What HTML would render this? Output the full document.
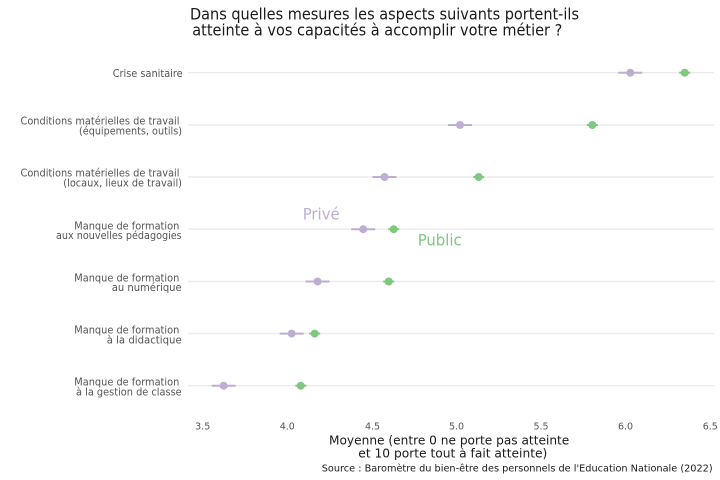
<!DOCTYPE html>
<html>
<head>
<meta charset="utf-8">
<style>
html,body{margin:0;padding:0;background:#fff;}
svg{display:block;}
text{font-family:"DejaVu Sans","Liberation Sans",sans-serif;}
</style>
</head>
<body>
<svg width="720" height="480" viewBox="0 0 720 480" xmlns="http://www.w3.org/2000/svg">
<rect width="720" height="480" fill="#ffffff"/>

<!-- Title -->
<text x="190" y="19.5" font-size="16" fill="#1a1a1a" textLength="389" lengthAdjust="spacingAndGlyphs">Dans quelles mesures les aspects suivants portent-ils</text>
<text x="192.3" y="35.5" font-size="16" fill="#1a1a1a" textLength="370" lengthAdjust="spacingAndGlyphs">atteinte à vos capacités à accomplir votre métier ?</text>

<!-- gridlines -->
<g stroke="#ebebeb" stroke-width="1.4">
<line x1="188" x2="714" y1="72.7" y2="72.7"/>
<line x1="188" x2="714" y1="125" y2="125"/>
<line x1="188" x2="714" y1="177" y2="177"/>
<line x1="188" x2="714" y1="229.2" y2="229.2"/>
<line x1="188" x2="714" y1="281.5" y2="281.5"/>
<line x1="188" x2="714" y1="333.6" y2="333.6"/>
<line x1="188" x2="714" y1="385.7" y2="385.7"/>
</g>

<!-- Y labels -->
<g font-size="11" fill="#555555">
<text x="112.7" y="77.2" textLength="70" lengthAdjust="spacingAndGlyphs">Crise sanitaire</text>

<text x="20.5" y="124.6" textLength="159" lengthAdjust="spacingAndGlyphs">Conditions matérielles de travail</text>
<text x="79" y="134.4" textLength="103" lengthAdjust="spacingAndGlyphs">(équipements, outils)</text>

<text x="20.5" y="176.6" textLength="159" lengthAdjust="spacingAndGlyphs">Conditions matérielles de travail</text>
<text x="63.3" y="186.4" textLength="118.7" lengthAdjust="spacingAndGlyphs">(locaux, lieux de travail)</text>

<text x="74.3" y="229.4" textLength="105" lengthAdjust="spacingAndGlyphs">Manque de formation</text>
<text x="56" y="239.2" textLength="125.7" lengthAdjust="spacingAndGlyphs">aux nouvelles pédagogies</text>

<text x="74.3" y="281.4" textLength="105" lengthAdjust="spacingAndGlyphs">Manque de formation</text>
<text x="111.7" y="291.2" textLength="70" lengthAdjust="spacingAndGlyphs">au numérique</text>

<text x="74.3" y="333.6" textLength="105" lengthAdjust="spacingAndGlyphs">Manque de formation</text>
<text x="106.7" y="343.4" textLength="75" lengthAdjust="spacingAndGlyphs">à la didactique</text>

<text x="74.3" y="385.7" textLength="105" lengthAdjust="spacingAndGlyphs">Manque de formation</text>
<text x="76" y="395.5" textLength="105.7" lengthAdjust="spacingAndGlyphs">à la gestion de classe</text>
</g>

<!-- Error bars -->
<g stroke="#BEAED4" stroke-width="2">
<line x1="618.3" x2="642.3" y1="72.7" y2="72.7"/>
<line x1="448" x2="472" y1="125" y2="125"/>
<line x1="372.5" x2="396.5" y1="177" y2="177"/>
<line x1="351.2" x2="375.2" y1="229.2" y2="229.2"/>
<line x1="305.6" x2="329.6" y1="281.5" y2="281.5"/>
<line x1="279.7" x2="303.7" y1="333.6" y2="333.6"/>
<line x1="211.7" x2="235.7" y1="385.7" y2="385.7"/>
</g>
<g stroke="#7FC97F" stroke-width="2">
<line x1="679.2" x2="690.2" y1="72.7" y2="72.7"/>
<line x1="586.8" x2="597.8" y1="125" y2="125"/>
<line x1="473.2" x2="484.2" y1="177" y2="177"/>
<line x1="388.2" x2="399.2" y1="229.2" y2="229.2"/>
<line x1="383.2" x2="394.2" y1="281.5" y2="281.5"/>
<line x1="309.2" x2="320.2" y1="333.6" y2="333.6"/>
<line x1="295.3" x2="306.3" y1="385.7" y2="385.7"/>
</g>

<!-- Points -->
<g fill="#BEAED4">
<circle cx="630.3" cy="72.7" r="4"/>
<circle cx="460" cy="125" r="4"/>
<circle cx="384.5" cy="177" r="4"/>
<circle cx="363.2" cy="229.2" r="4"/>
<circle cx="317.6" cy="281.5" r="4"/>
<circle cx="291.7" cy="333.6" r="4"/>
<circle cx="223.7" cy="385.7" r="4"/>
</g>
<g fill="#7FC97F">
<circle cx="684.7" cy="72.7" r="4"/>
<circle cx="592.3" cy="125" r="4"/>
<circle cx="478.7" cy="177" r="4"/>
<circle cx="393.7" cy="229.2" r="4"/>
<circle cx="388.7" cy="281.5" r="4"/>
<circle cx="314.7" cy="333.6" r="4"/>
<circle cx="300.8" cy="385.7" r="4"/>
</g>

<!-- Series labels -->
<text x="302.7" y="219.3" font-size="16" fill="#BEAED4" textLength="37" lengthAdjust="spacingAndGlyphs">Privé</text>
<text x="417.7" y="245.7" font-size="16" fill="#7FC97F" textLength="44" lengthAdjust="spacingAndGlyphs">Public</text>

<!-- X tick labels -->
<g font-size="9.5" fill="#555555" text-anchor="middle">
<text x="202.7" y="429.5">3.5</text>
<text x="287.3" y="429.5">4.0</text>
<text x="372.5" y="429.5">4.5</text>
<text x="456.5" y="429.5">5.0</text>
<text x="541" y="429.5">5.5</text>
<text x="625.5" y="429.5">6.0</text>
<text x="710.3" y="429.5">6.5</text>
</g>

<!-- X axis title -->
<text x="329" y="444.5" font-size="12" fill="#1a1a1a" textLength="240.3" lengthAdjust="spacingAndGlyphs">Moyenne (entre 0 ne porte pas atteinte</text>
<text x="358.3" y="457.5" font-size="12" fill="#1a1a1a" textLength="189" lengthAdjust="spacingAndGlyphs">et 10 porte tout à fait atteinte)</text>

<!-- Caption -->
<text x="321.7" y="471.5" font-size="10" fill="#1a1a1a" textLength="391" lengthAdjust="spacingAndGlyphs">Source : Baromètre du bien-être des personnels de l'Education Nationale (2022)</text>
</svg>
</body>
</html>
